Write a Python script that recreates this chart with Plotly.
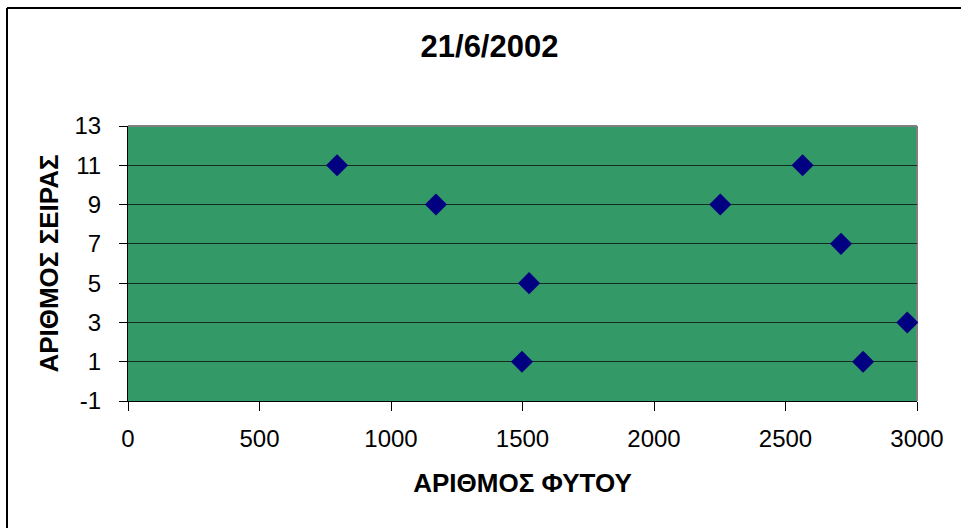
import plotly.graph_objects as go

# Data
plant_number = [795, 1171, 1525, 1498, 2252, 2565, 2711, 2795, 2963]
row_number = [11, 9, 5, 1, 9, 11, 7, 1, 3]

x_ticks = [0, 500, 1000, 1500, 2000, 2500, 3000]
y_ticks = [-1, 1, 3, 5, 7, 9, 11, 13]

title_text = "21/6/2002"
x_title = "ΑΡΙΘΜΟΣ ΦΥΤΟΥ"
y_title = "ΑΡΙΘΜΟΣ ΣΕΙΡΑΣ"

W, H = 961, 528
L, R, T, B = 128, 917, 126, 401

fig = go.Figure()
fig.add_trace(go.Scatter(
    x=plant_number, y=row_number, mode="markers",
    marker=dict(symbol="diamond", size=17, color="#000080", line=dict(width=0)),
    showlegend=False, cliponaxis=False, hoverinfo="skip",
))

font_family = "Liberation Sans, Arial, sans-serif"

fig.update_layout(
    width=W, height=H,
    margin=dict(l=L, r=W - R, t=T, b=H - B, autoexpand=False),
    paper_bgcolor="white",
    plot_bgcolor="#339966",
    font=dict(family=font_family, color="black"),
    title=dict(text="<b>%s</b>" % title_text, font=dict(size=31, color="black"),
               xref="container", yref="container", x=489.5 / W, y=1 - 46 / H,
               xanchor="center", yanchor="middle"),
)

fig.update_xaxes(
    range=[0, 3000], tickvals=x_ticks, ticktext=[str(v) for v in x_ticks],
    showgrid=False, zeroline=False,
    showline=True, linecolor="black", linewidth=1,
    ticks="outside", ticklen=9, tickcolor="black", tickwidth=1,
    tickfont=dict(size=24, color="black"), ticklabelstandoff=7,
    title=dict(text="<b>%s</b>" % x_title, font=dict(size=26, color="black"), standoff=23),
    automargin=False, fixedrange=True,
)
fig.update_yaxes(
    range=[-1, 13], tickvals=y_ticks, ticktext=[str(v) for v in y_ticks],
    showgrid=True, gridcolor="#142a1e", gridwidth=1,
    zeroline=False, showline=True, linecolor="black", linewidth=1,
    ticks="outside", ticklen=8, tickcolor="black", tickwidth=1,
    tickfont=dict(size=24, color="black"), ticklabelstandoff=13,
    title=dict(text="<b>%s</b>" % y_title, font=dict(size=26, color="black"), standoff=8),
    automargin=False, fixedrange=True,
)

# gray plot-area border on top and right
fig.add_shape(type="line", xref="paper", yref="paper", x0=0, x1=1, y0=1, y1=1,
              line=dict(color="#808080", width=2), layer="above")
fig.add_shape(type="line", xref="paper", yref="paper", x0=1, x1=1, y0=0, y1=1,
              line=dict(color="#808080", width=2), layer="below")

# outer chart-area border (only left & top edges are inside the picture)
px_w, px_h = R - L, B - T
bx0 = (7 - L) / px_w
by1 = 1 + (T - 8) / px_h
fig.add_shape(type="line", xref="paper", yref="paper",
              x0=bx0, x1=(W + 5 - L) / px_w, y0=by1, y1=by1,
              line=dict(color="black", width=2), layer="below")
fig.add_shape(type="line", xref="paper", yref="paper",
              x0=bx0, x1=bx0, y0=by1, y1=-(H + 5 - B) / px_h,
              line=dict(color="black", width=2), layer="below")

fig.write_html("out.html", config={"displayModeBar": False, "staticPlot": True},
               post_script="document.body.style.margin='0';document.body.style.overflow='hidden';")
